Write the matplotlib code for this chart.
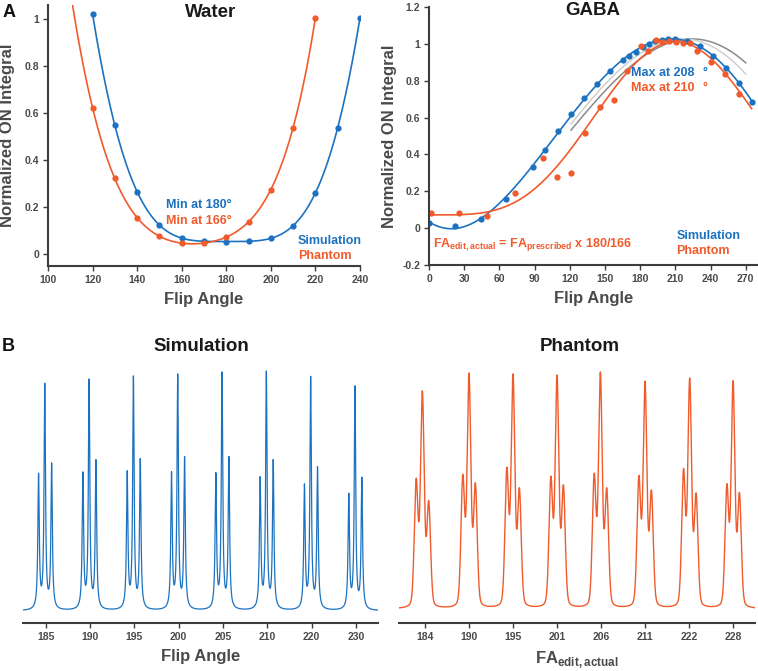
import numpy as np
import matplotlib
matplotlib.use('Agg')
import matplotlib.pyplot as plt

plt.rcParams['font.family'] = ['Liberation Sans', 'DejaVu Sans']
plt.rcParams['font.weight'] = 'bold'
plt.rcParams['mathtext.fontset'] = 'custom'
plt.rcParams['mathtext.rm'] = 'Liberation Sans:bold'
plt.rcParams['mathtext.bf'] = 'Liberation Sans:bold'

BLUE = '#1c72c0'
ORANGE = '#f15a2b'
AXC = '#3c3c3c'
LBLC = '#4a4a4a'

# ---- panel A, water ----
water_fa = [120, 130, 140, 150, 160, 170, 180, 190, 200, 210, 220, 230, 240]
water_sim = [1.023, 0.549, 0.265, 0.123, 0.068, 0.055, 0.052, 0.054, 0.067, 0.121, 0.26, 0.538, 1.006]
water_ph_fa = [120, 130, 140, 150, 160, 170, 180, 190, 200, 210, 220]
water_ph = [0.623, 0.322, 0.153, 0.077, 0.047, 0.045, 0.072, 0.138, 0.274, 0.539, 1.006]

# ---- panel A, GABA ----
gaba_sim_fa = [0, 21.9, 44, 65.9, 88.3, 99.1, 109.9, 121.2, 132, 143.4, 154.2, 165, 170.6,
               176.3, 182, 187.4, 193, 198.8, 204, 209.3, 220.3, 231.4, 242.2, 253.3, 264.3, 275.4]
gaba_sim = [0.027, 0.013, 0.049, 0.158, 0.330, 0.426, 0.525, 0.620, 0.705, 0.784, 0.853, 0.911, 0.937,
            0.958, 0.982, 1.0, 1.018, 1.022, 1.025, 1.027, 1.018, 0.986, 0.937, 0.870, 0.786, 0.687]
gaba_ph_fa = [1.7, 25.8, 49.4, 73.3, 97.4, 109.3, 121.2, 133.2, 145.4, 157.3, 169, 181.1, 186.8,
              193.1, 198.8, 205, 210.7, 216.9, 222.9, 228.8, 240.8, 252.7, 264.3]
gaba_ph = [0.080, 0.080, 0.067, 0.188, 0.379, 0.279, 0.301, 0.518, 0.656, 0.697, 0.855, 0.986, 0.960,
           1.024, 1.009, 1.014, 1.011, 1.005, 1.005, 0.960, 0.900, 0.835, 0.730]
gray_ratios = [166 / 180, 172 / 180]
gray_colors = ['#8a8a8a', '#cfcfcf']

# ---- panel B, spectra (peak heights of the GABA triplet per flip angle) ----
sim_labels = ['185', '190', '195', '200', '205', '210', '220', '230']
sim_left = [133, 134, 135, 134, 133, 129, 122, 113]
sim_center = [223, 227, 230, 232, 234, 235, 230, 221]
sim_right = [144, 147, 148, 150, 150, 147, 140, 130]
sim_offsets = [-0.16, -0.02, 0.135]

ph_labels = ['184', '190', '195', '201', '206', '211', '222', '228']
ph_left = [124, 127, 134, 125, 128, 126, 133, 118]
ph_center = [212, 229, 228, 227, 230, 221, 224, 222]
ph_right = [102, 119, 114, 117, 114, 112, 109, 110]
ph_shift = [-0.06, 0, 0, 0, -0.015, 0, 0.015, 0]
ph_offsets = [-0.14, 0, 0.145]


def lorentz(x, x0, w):
    return w ** 2 / ((x - x0) ** 2 + w ** 2)


def pvoigt(x, x0, sig, eta):
    hw = sig * 1.1774
    return (1 - eta) * np.exp(-(x - x0) ** 2 / (2 * sig ** 2)) + eta * lorentz(x, x0, hw)


def fit_sin4(x, y):
    # least squares fit of y = d + a*sin(pi*x/P)^4, P by grid search
    x = np.asarray(x, float)
    y = np.asarray(y, float)
    best = None
    for P in np.arange(340, 520, 0.5):
        A = np.column_stack([np.ones_like(x), np.sin(np.pi * x / P) ** 4])
        coef = np.linalg.lstsq(A, y, rcond=None)[0]
        err = np.sum((A @ coef - y) ** 2)
        if best is None or err < best[0]:
            best = (err, P, coef)
    _, P, (d, a) = best
    return lambda t: d + a * np.sin(np.pi * np.asarray(t) / P) ** 4


def style_axis(ax):
    for s in ['top', 'right']:
        ax.spines[s].set_visible(False)
    for s in ['left', 'bottom']:
        ax.spines[s].set_linewidth(1.5)
        ax.spines[s].set_color(AXC)
    ax.tick_params(colors=AXC, labelcolor=LBLC, labelsize=7.5, length=3.5, width=1, pad=3)
    for lab in ax.get_xticklabels() + ax.get_yticklabels():
        lab.set_fontweight('bold')


fig = plt.figure(figsize=(7.58, 6.71), dpi=100)

# Water
ax1 = fig.add_axes([0.0633, 0.604, 0.4116, 0.388])
p_sim = np.polynomial.Polynomial.fit(water_fa, water_sim, 6)
p_ph = np.polynomial.Polynomial.fit(water_ph_fa, water_ph, 5)
xs = np.linspace(120, 240, 300)
xp = np.linspace(108, 220, 300)
ax1.plot(xs, p_sim(xs), color=BLUE, lw=1.2)
ax1.plot(xp, p_ph(xp), color=ORANGE, lw=1.2)
ax1.plot(water_fa, water_sim, 'o', color=BLUE, ms=4.5, mec='none')
ax1.plot(water_ph_fa, water_ph, 'o', color=ORANGE, ms=4.5, mec='none')
ax1.set_xlim(100, 240)
ax1.set_ylim(-0.05, 1.06)
ax1.set_xticks(range(100, 241, 20))
ax1.set_yticks([0, 0.2, 0.4, 0.6, 0.8, 1])
ax1.set_yticklabels(['0', '0.2', '0.4', '0.6', '0.8', '1'])
style_axis(ax1)
ax1.set_xlabel('Flip Angle', fontsize=12, fontweight='bold', color=LBLC, labelpad=5)
ax1.set_ylabel('Normalized ON Integral', fontsize=12, fontweight='bold', color=LBLC, labelpad=7)
ax1.text(152.9, 0.209, 'Min at 180°', color=BLUE, fontsize=9, fontweight='bold', va='center')
ax1.text(152.9, 0.141, 'Min at 166°', color=ORANGE, fontsize=9, fontweight='bold', va='center')
ax1.text(212.2, 0.055, 'Simulation', color=BLUE, fontsize=9, fontweight='bold', va='center')
ax1.text(212.2, -0.009, 'Phantom', color=ORANGE, fontsize=9, fontweight='bold', va='center')

# GABA
ax2 = fig.add_axes([0.566, 0.6054, 0.4333, 0.384])
g_sim = np.polynomial.Polynomial.fit(gaba_sim_fa, gaba_sim, 5)
g_ph = fit_sin4(gaba_ph_fa, gaba_ph)
xg = np.linspace(0, 275, 400)
xgr = np.linspace(121, 270, 300)
for r, c in zip(gray_ratios, gray_colors):
    ax2.plot(xgr, g_sim(xgr * r), color=c, lw=1.1)
ax2.plot(xg, g_sim(xg), color=BLUE, lw=1.2)
ax2.plot(xg, g_ph(xg), color=ORANGE, lw=1.2)
ax2.plot(gaba_sim_fa, gaba_sim, 'o', color=BLUE, ms=4.5, mec='none')
ax2.plot(gaba_ph_fa, gaba_ph, 'o', color=ORANGE, ms=4.5, mec='none')
ax2.set_xlim(0, 280)
ax2.set_ylim(-0.2, 1.2)
ax2.set_xticks(range(0, 271, 30))
ax2.set_yticks([-0.2, 0, 0.2, 0.4, 0.6, 0.8, 1, 1.2])
ax2.set_yticklabels(['-0.2', '0', '0.2', '0.4', '0.6', '0.8', '1', '1.2'])
style_axis(ax2)
ax2.set_xlabel('Flip Angle', fontsize=12, fontweight='bold', color=LBLC, labelpad=5)
ax2.set_ylabel('Normalized ON Integral', fontsize=12, fontweight='bold', color=LBLC, labelpad=4)
ax2.text(172, 0.842, 'Max at 208', color=BLUE, fontsize=9, fontweight='bold', va='center')
ax2.text(233, 0.842, '°', color=BLUE, fontsize=9, fontweight='bold', va='center')
ax2.text(172, 0.761, 'Max at 210', color=ORANGE, fontsize=9, fontweight='bold', va='center')
ax2.text(233, 0.761, '°', color=ORANGE, fontsize=9, fontweight='bold', va='center')
ax2.text(3.4, -0.09, r'FA$_{\mathbf{edit,actual}}$ = FA$_{\mathbf{prescribed}}$ x 180/166',
         color=ORANGE, fontsize=9, fontweight='bold', va='center')
ax2.text(211, -0.043, 'Simulation', color=BLUE, fontsize=9, fontweight='bold', va='center')
ax2.text(211, -0.125, 'Phantom', color=ORANGE, fontsize=9, fontweight='bold', va='center')

# Simulation spectra
ax3 = fig.add_axes([0.031, 0.0715, 0.4677, 0.3845])
xx = np.linspace(-0.5, 7.5, 12001)
spec = np.zeros_like(xx)
for i in range(len(sim_labels)):
    for off, h in zip(sim_offsets, [sim_left[i], sim_center[i], sim_right[i]]):
        spec += h * lorentz(xx, i + off, 0.019)
ax3.plot(xx, spec, color=BLUE, lw=0.9)
ax3.set_xlim(-0.5, 7.5)
ax3.set_ylim(-12, 246)
ax3.set_xticks(range(len(sim_labels)))
ax3.set_xticklabels(sim_labels)
ax3.set_yticks([])
style_axis(ax3)
ax3.spines['left'].set_visible(False)
ax3.set_xlabel('Flip Angle', fontsize=12, fontweight='bold', color=LBLC, labelpad=5)

# Phantom spectra
ax4 = fig.add_axes([0.5264, 0.0715, 0.4697, 0.3845])
xx = np.linspace(-0.59, 7.5, 12001)
spec = np.zeros_like(xx)
for i in range(len(ph_labels)):
    for off, h in zip(ph_offsets, [ph_left[i], ph_center[i], ph_right[i]]):
        spec += h * pvoigt(xx, i + ph_shift[i] + off, 0.042, 0.22)
ax4.plot(xx, spec, color=ORANGE, lw=1.0)
ax4.set_xlim(-0.59, 7.5)
ax4.set_ylim(-14, 244)
ax4.set_xticks(range(len(ph_labels)))
ax4.set_xticklabels(ph_labels)
ax4.set_yticks([])
style_axis(ax4)
ax4.spines['left'].set_visible(False)
ax4.set_xlabel(r'FA$_{\mathbf{edit,actual}}$', fontsize=12, fontweight='bold', color=LBLC, labelpad=5)

# titles and panel letters
fig.text(0.278, 0.982, 'Water', fontsize=13.5, fontweight='bold', color='#1a1a1a', ha='center', va='center')
fig.text(0.782, 0.984, 'GABA', fontsize=13.5, fontweight='bold', color='#1a1a1a', ha='center', va='center')
fig.text(0.265, 0.484, 'Simulation', fontsize=13.5, fontweight='bold', color='#1a1a1a', ha='center', va='center')
fig.text(0.765, 0.484, 'Phantom', fontsize=13.5, fontweight='bold', color='#1a1a1a', ha='center', va='center')
fig.text(0.004, 0.982, 'A', fontsize=13, fontweight='bold', color='#111111', ha='left', va='center')
fig.text(0.002, 0.483, 'B', fontsize=13, fontweight='bold', color='#111111', ha='left', va='center')

fig.savefig('out.png', dpi=100)
